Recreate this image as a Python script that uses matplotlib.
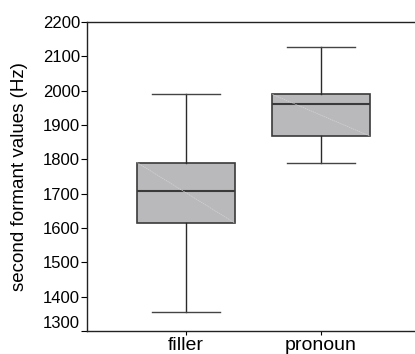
import matplotlib.pyplot as plt

plt.rcParams['font.family'] = ['Liberation Sans', 'DejaVu Sans']

groups = ['filler', 'pronoun']
whisker_low = [1355, 1788]
q1 = [1615, 1868]
median = [1709, 1960]
q3 = [1790, 1989]
whisker_high = [1989, 2128]

stats = []
for g, lo, a, m, b, hi in zip(groups, whisker_low, q1, median, q3, whisker_high):
    stats.append({'label': g, 'whislo': lo, 'q1': a, 'med': m, 'q3': b, 'whishi': hi, 'fliers': []})

fig = plt.figure(figsize=(4.15, 3.54), dpi=100)
ax = fig.add_axes([0.2096, 0.065, 0.7904, 0.873])

positions = [1, 2]
ax.bxp(stats, positions=positions, widths=0.72, capwidths=0.5, showfliers=False,
       patch_artist=True,
       boxprops=dict(facecolor='#b9b9bc', edgecolor='#3a3a3a', linewidth=1.2),
       medianprops=dict(color='#3a3a3a', linewidth=1.5),
       whiskerprops=dict(color='#2a2a2a', linewidth=1.0),
       capprops=dict(color='#444444', linewidth=1.0))

# faint diagonal inside each box, as in the original rendering
for p, a, b in zip(positions, q1, q3):
    ax.plot([p - 0.36, p + 0.36], [b, a], color='#d4d4d8', linewidth=0.5,
            linestyle=(0, (2, 1)), zorder=3)

ax.set_xlim(0.267, 2.696)
ax.set_ylim(1300, 2200)
ax.set_yticks(range(1300, 2201, 100))
ax.set_xticks(positions)
ax.set_xticklabels(groups, fontsize=14)
ax.tick_params(axis='y', labelsize=12, length=4, width=0.8, pad=1)
ax.tick_params(axis='x', length=3, width=0.8, pad=1)
ax.set_ylabel('second formant values (Hz)', fontsize=13.5)
ax.yaxis.set_label_coords(-0.18, 0.5)

ax.spines['right'].set_visible(False)
for s in ['left', 'top', 'bottom']:
    ax.spines[s].set_linewidth(1.0)
    ax.spines[s].set_color('#222222')

fig.canvas.draw()
ax.get_yticklabels()[0].set_va('bottom')

fig.savefig('out.png', dpi=100)
